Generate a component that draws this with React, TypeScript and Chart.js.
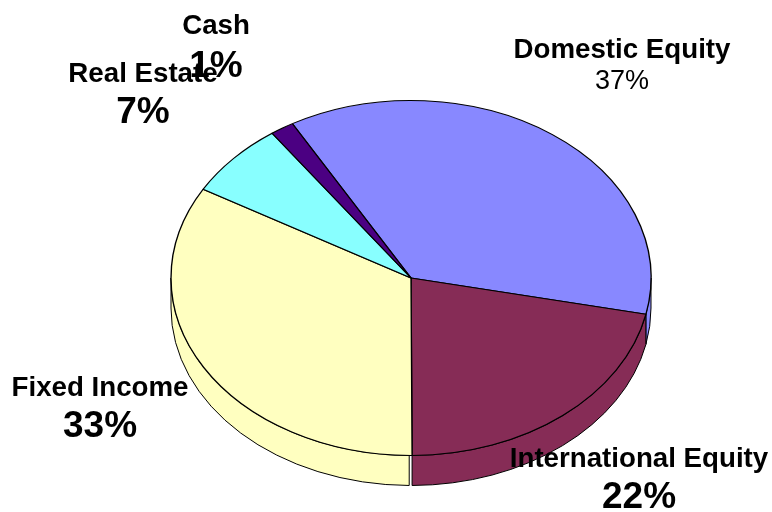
import React, { useEffect, useRef } from "react";
import { Chart, registerables } from "chart.js";

Chart.register(...registerables);

const categories = ["Domestic Equity", "International Equity", "Fixed Income", "Real Estate", "Cash"];
const seriesValues = [36.5, 21.65, 33.4, 6.85, 1.6];
const percentLabels = ["37%", "22%", "33%", "7%", "1%"];
const sliceColors = ["#8888FF", "#862C56", "#FFFFC0", "#88FFFF", "#4B0082"];

// label layout: [centre x, name baseline, percent baseline]
const labelLayout = [
  [622, 58, 89],
  [639, 467, 508],
  [100, 396, 437],
  [143, 82, 123],
  [216, 34, 77],
];
const percentFonts = [
  "27px 'Liberation Sans'",
  "bold 37px 'Liberation Sans'",
  "bold 37px 'Liberation Sans'",
  "bold 37px 'Liberation Sans'",
  "bold 37px 'Liberation Sans'",
];
const NAME_FONT = "bold 27.7px 'Liberation Sans'";
const H_RADIUS = 240;
const DEPTH = 30;
const WALL_GAP = 0.012;

const tiltPlugin = {
  id: "tilt",
  beforeDatasetsDraw(chart: any) {
    const arcs = chart.getDatasetMeta(0).data;
    const ctx = chart.ctx;
    const { x: cx, y: cy, outerRadius: ry } = arcs[0].getProps(["x", "y", "outerRadius"]);
    ctx.save();
    // side wall of the pie: only the near half of each slice shows
    arcs.forEach((arc: any, i: number) => {
      const { startAngle, endAngle } = arc.getProps(["startAngle", "endAngle"]);
      let a0 = Math.max(startAngle, 0);
      const a1 = Math.min(endAngle, Math.PI);
      if (a1 <= a0) return;
      if (a0 > 0) a0 += i === 2 ? WALL_GAP : 0.002;
      ctx.beginPath();
      ctx.ellipse(cx, cy, H_RADIUS, ry, 0, a0, a1);
      ctx.ellipse(cx, cy + DEPTH, H_RADIUS, ry, 0, a1, a0, true);
      ctx.closePath();
      ctx.fillStyle = sliceColors[i];
      ctx.fill();
      ctx.strokeStyle = "#000";
      ctx.lineWidth = 1;
      ctx.stroke();
    });
    ctx.restore();
    // the top face is drawn by Chart.js itself, stretched sideways
    ctx.save();
    ctx.translate(cx, 0);
    ctx.scale(H_RADIUS / ry, 1);
    ctx.translate(-cx, 0);
  },
  afterDatasetsDraw(chart: any) {
    chart.ctx.restore();
  },
  afterDraw(chart: any) {
    const ctx = chart.ctx;
    ctx.save();
    ctx.fillStyle = "#000";
    ctx.textAlign = "center";
    ctx.textBaseline = "alphabetic";
    categories.forEach((name, i) => {
      const [x, y1, y2] = labelLayout[i];
      ctx.font = NAME_FONT;
      ctx.fillText(name, x, y1);
      ctx.font = percentFonts[i];
      ctx.fillText(percentLabels[i], x, y2);
    });
    ctx.restore();
  },
};

export default function App() {
  const ref = useRef<HTMLCanvasElement>(null);
  useEffect(() => {
    const chart = new Chart(ref.current as HTMLCanvasElement, {
      type: "pie",
      data: {
        labels: categories,
        datasets: [
          {
            data: seriesValues,
            backgroundColor: sliceColors,
            borderColor: "#000",
            borderWidth: 1,
            hoverOffset: 0,
          },
        ],
      },
      options: {
        responsive: false,
        animation: false,
        rotation: -29.6,
        layout: { padding: { left: 233, right: 183, top: 100, bottom: 56 } },
        plugins: { legend: { display: false }, tooltip: { enabled: false } },
      },
      plugins: [tiltPlugin],
    } as any);
    return () => chart.destroy();
  }, []);
  return (
    <div style={{ position: "absolute", left: 0, top: 0, width: 772, height: 512, background: "#fff" }}>
      <canvas ref={ref} width={772} height={512} style={{ display: "block" }} />
    </div>
  );
}
